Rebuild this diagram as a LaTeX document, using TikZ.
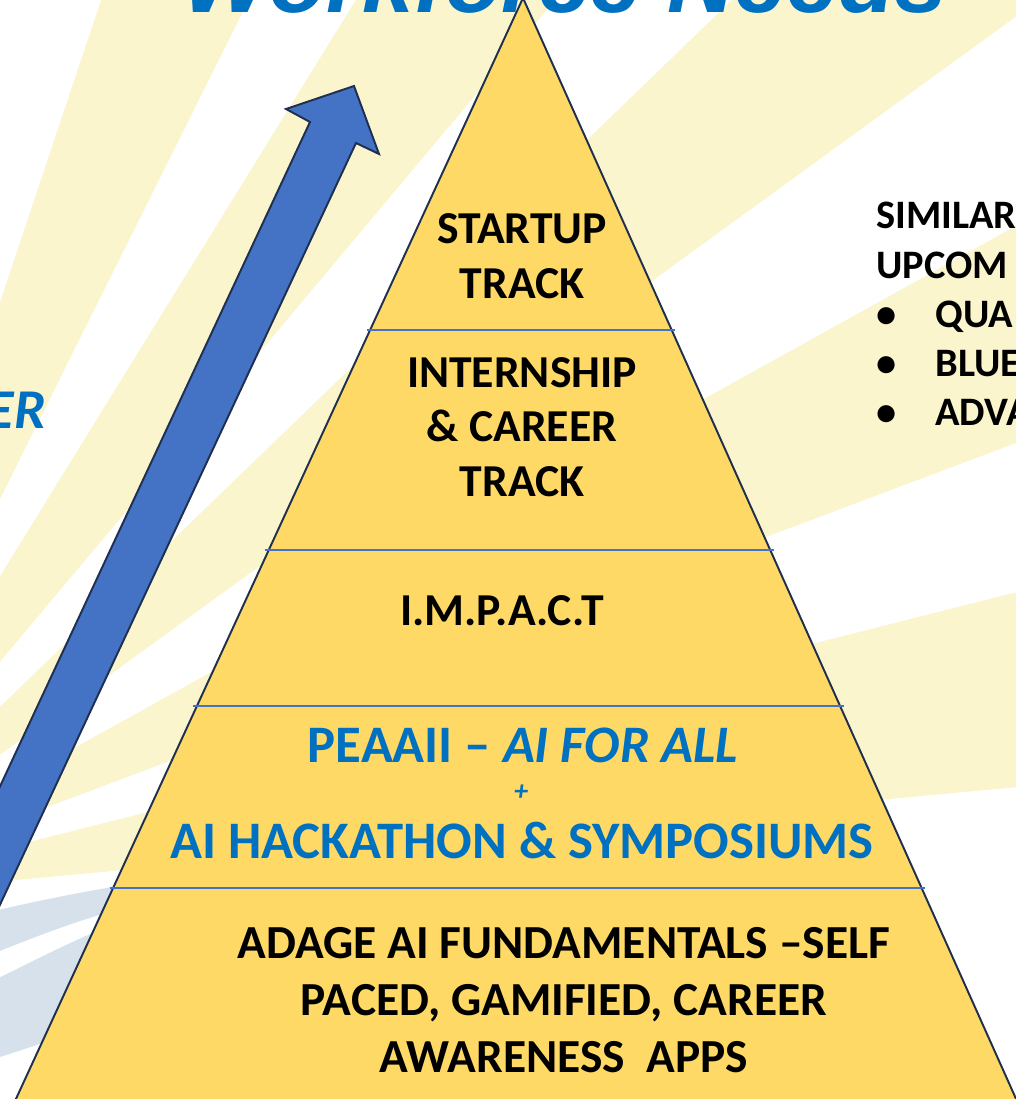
\documentclass[tikz,border=0pt]{standalone}
\usepackage{fontspec}
\setmainfont{Carlito}
\newfontfamily\headfont{Liberation Sans}
\usetikzlibrary{shapes,arrows,calc,positioning}
\definecolor{raycol}{HTML}{FAF5CD}
\definecolor{pyrfill}{HTML}{FFD966}
\definecolor{edgecol}{HTML}{1F2F50}
\definecolor{divblue}{HTML}{4472C4}
\definecolor{arrowblue}{HTML}{4472C4}
\definecolor{textblue}{HTML}{0070C0}
\definecolor{swoosh}{HTML}{D6E1EB}

\begin{document}
\begin{tikzpicture}[x=0.02cm, y=-0.02cm]
\tikzstyle{ray} = [fill=raycol]
\tikzstyle{pyramid} = [fill=pyrfill, draw=edgecol, line width=1.1pt]
\tikzstyle{divider} = [draw=divblue, line width=0.7pt, shorten <=-2pt, shorten >=-2pt]
\tikzstyle{level} = [font=\bfseries\fontsize{26}{31}\selectfont, align=center]
\tikzstyle{bluelevel} = [font=\bfseries\fontsize{30}{32}\selectfont, text=textblue, anchor=base]
\tikzstyle{side} = [font=\bfseries\fontsize{23}{28}\selectfont, anchor=base west, inner sep=0pt]
    % We start with the page and the rays behind everything
    \useasboundingbox (0,0) rectangle (1015,1099);
    \fill[white] (0,0) rectangle (1015,1099);
    \coordinate (sun) at (-200,900);
    \foreach \a/\b in {5.3/14.2, 20.6/29, 36/44, 50/58.3, 63.5/71.5}
        \fill[ray] (sun) -- ($(sun)+(-\a:2500)$) -- ($(sun)+(-\b:2500)$) -- cycle;

    % the grey swoosh in the lower left corner
    \fill[swoosh] (-10,912) .. controls (40,900) and (100,888) .. (170,878)
        -- (170,1000) .. controls (100,1022) and (40,1045) .. (-10,1060) -- cycle;
    \fill[white] (-10,955) .. controls (40,935) and (90,915) .. (150,902)
        -- (150,912) .. controls (90,930) and (40,958) .. (-10,982) -- cycle;

    % title, cut off by the top of the page
    \node[font=\headfont\bfseries\itshape\fontsize{53}{53}\selectfont, text=textblue,
        anchor=base] (title) at (565,12) {Workforce Needs};

    % the blue arrow
    \filldraw[fill=arrowblue, draw=edgecol, line width=1.1pt, line join=miter]
        (354,86) -- (379,154) -- (356,143) -- (-138,1200) -- (-193,1200)
        -- (310,122) -- (286,109) -- cycle;

    % the pyramid and its levels
    \coordinate (apex) at (523,-2);
    \coordinate (baseL) at (15,1101);
    \coordinate (baseR) at (1017,1101);
    \filldraw[pyramid] (apex) -- (baseR) -- (baseL) -- cycle;
    \foreach \t/\n in {0.3010/1, 0.5005/2, 0.6419/3, 0.8069/4} {
        \coordinate (l\n) at ($(apex)!\t!(baseL)$);
        \coordinate (r\n) at ($(apex)!\t!(baseR)$);
        \draw[divider] (l\n) -- (r\n);
    }

    % Once the pyramid is drawn, the labels go on top
    \node[level] (startup) at (522,256) {STARTUP\\TRACK};
    \node[level] (intern) at (522,427) {INTERNSHIP\\\& CAREER\\TRACK};
    \node[level] (impact) at (502,611) {I.M.P.A.C.T};
    \node[bluelevel] (peaaii) at (523,762) {PEAAII – \textit{AI FOR ALL}};
    \node[bluelevel, font=\bfseries\itshape\fontsize{16}{16}\selectfont] (plus) at (521,800) {+};
    \node[bluelevel] (hack) at (522,858) {AI HACKATHON \& SYMPOSIUMS};
    \node[level, font=\bfseries\fontsize{27}{32.3}\selectfont] (adage) at (564,1000)
        {ADAGE AI FUNDAMENTALS –SELF\\PACED, GAMIFIED, CAREER\\AWARENESS\ \ APPS};

    % texts at the sides
    \node[font=\bfseries\itshape\fontsize{32}{32}\selectfont, text=textblue,
        anchor=base east, inner sep=0pt] (er) at (46,428) {ER};
    \node[side] (similar) at (876,228) {SIMILAR};
    \node[side] (upcom) at (876,278) {UPCOM};
    \foreach \y/\w [count=\i] in {327/QUA, 376/BLUE, 425/ADVA} {
        \node[side] (bul\i) at (876,\y) {\textbullet};
        \node[side] (item\i) at (935,\y) {\w};
    }
\end{tikzpicture}
\end{document}
